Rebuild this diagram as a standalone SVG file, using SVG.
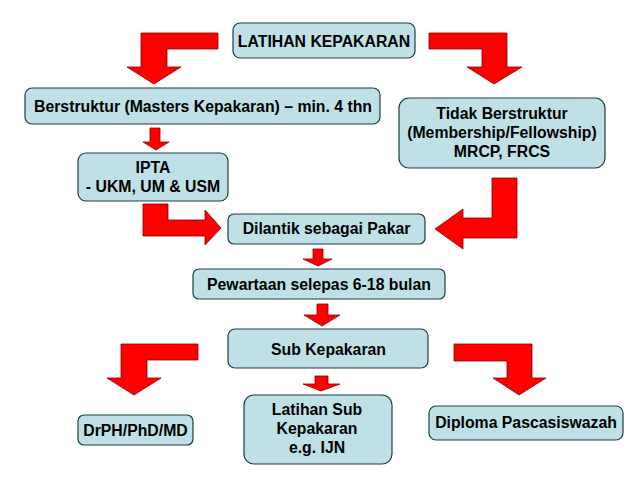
<svg xmlns="http://www.w3.org/2000/svg" width="638" height="479" viewBox="0 0 638 479">
<style>
.box{fill:#bfe0e6;stroke:#1e3c42;stroke-width:1.2}
.t{font-family:"Liberation Sans",Arial,sans-serif;font-weight:bold;font-size:15.8px;fill:#000;text-anchor:middle}
.arr{fill:#ff0000;stroke:#8a0000;stroke-width:0.8;stroke-linejoin:miter}
</style>
<rect width="638" height="479" fill="#ffffff"/>
<g id="connectors">
<polygon class="arr" points="218,33 141,33 141,67 127,67 154,84 181,67 167,67 167,49 218,49"/>
<polygon class="arr" points="429,33 507,33 507,67 522,67 494,84 467,67 482,67 482,49 429,49"/>
<polygon class="arr" points="150,128 160,128 160,142 169,142 156,150 143,142 150,142"/>
<polygon class="arr" points="143,204 168,204 168,220 205,220 205,210 221,228 205,245 205,236 143,236"/>
<polygon class="arr" points="517,178 492,178 492,218 463,218 463,209 435,229 463,249 463,238 517,238"/>
<polygon class="arr" points="313,249 323,249 323,259 332,259 318,266 303,259 313,259"/>
<polygon class="arr" points="317,304 328,304 328,315 340,315 322,326 304,315 317,315"/>
<polygon class="arr" points="315,376 328,376 328,384 340,384 321,391 303,384 315,384"/>
<polygon class="arr" points="198,344 121,344 121,378 107,378 134,395 161,378 147,378 147,360 198,360"/>
<polygon class="arr" points="454,344 532,344 532,378 546,378 519,395 493,378 507,378 507,361 454,361"/>
</g>
<g id="n-latihan">
<rect class="box" x="233" y="23" width="182" height="35" rx="7"/>
<text class="t" x="324" y="46.5">LATIHAN KEPAKARAN</text>
</g>
<g id="n-berstruktur">
<rect class="box" x="25" y="88" width="355" height="36" rx="7"/>
<text class="t" x="203" y="111.5">Berstruktur (Masters Kepakaran) – min. 4 thn</text>
</g>
<g id="n-ipta">
<rect class="box" x="78" y="153" width="150" height="48" rx="8"/>
<text class="t" x="153" y="173">IPTA</text>
<text class="t" x="153" y="192">- UKM, UM &amp; USM</text>
</g>
<g id="n-tidak">
<rect class="box" x="399" y="98" width="206" height="70" rx="10"/>
<text class="t" x="502" y="119">Tidak Berstruktur</text>
<text class="t" x="502" y="138">(Membership/Fellowship)</text>
<text class="t" x="502" y="157">MRCP, FRCS</text>
</g>
<g id="n-dilantik">
<rect class="box" x="228" y="214" width="197" height="30" rx="6"/>
<text class="t" x="326.5" y="234">Dilantik sebagai Pakar</text>
</g>
<g id="n-pewartaan">
<rect class="box" x="193" y="269" width="252" height="30" rx="6"/>
<text class="t" x="319" y="289.5">Pewartaan selepas 6-18 bulan</text>
</g>
<g id="n-sub">
<rect class="box" x="228" y="329" width="200" height="39" rx="7"/>
<text class="t" x="328.5" y="354.5">Sub Kepakaran</text>
</g>
<g id="n-drph">
<rect class="box" x="78" y="415" width="115" height="30" rx="6"/>
<text class="t" x="135.5" y="435.5">DrPH/PhD/MD</text>
</g>
<g id="n-latsub">
<rect class="box" x="244" y="395" width="148" height="69" rx="10"/>
<text class="t" x="317" y="415">Latihan Sub</text>
<text class="t" x="317" y="434">Kepakaran</text>
<text class="t" x="317" y="452.5">e.g. IJN</text>
</g>
<g id="n-diploma">
<rect class="box" x="429" y="406" width="194" height="34" rx="7"/>
<text class="t" x="526" y="428">Diploma Pascasiswazah</text>
</g>
</svg>
